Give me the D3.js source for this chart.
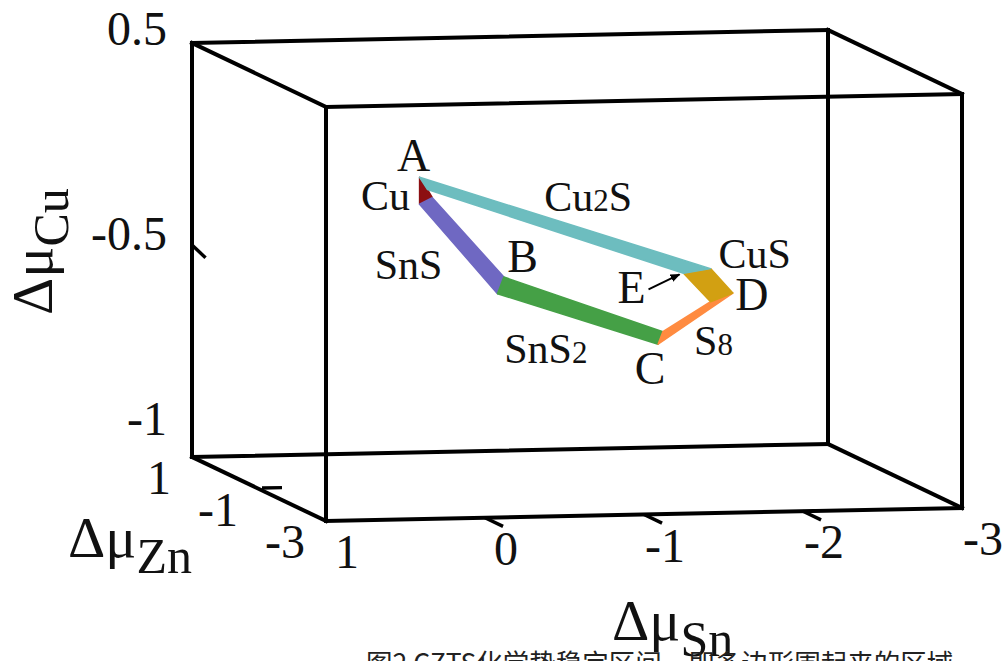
<!DOCTYPE html>
<html>
<head>
<meta charset="utf-8">
<script src="https://cdn.jsdelivr.net/npm/d3@7"></script>
<style>
body { margin: 0; background: #fff; }
svg { display: block; }
text { font-family: "Liberation Serif", "DejaVu Serif", "Times New Roman", serif; fill: #111; }
</style>
</head>
<body>
<svg id="chart" width="1003" height="661"></svg>
<script>
// axes: extents and tick labels
var snDomain = [1, -3];
var cuDomain = [-1, -0.5, 0.5];
var znDomain = [-3, 1];
var snTicks = [1, 0, -1, -2, -3];
var cuTicks = [0.5, -0.5, -1];
var znTicks = [1, -1, -3];
var snMarks = [0, -1, -2];
var cuMarks = [-0.5];
var znMarks = [-1];

// stability region (read on the plane dmu_Zn = -1)
var vertexNames = ["A", "A2", "B", "C", "D", "E"];
var outerSn = [-0.01, -0.01, -0.50, -1.51, -1.98, -1.84];
var outerCu = [-0.01, -0.14, -0.54, -0.67, -0.55, -0.48];
var innerSn = [-0.06, -0.09, -0.54, -1.54, -1.84, -1.67];
var innerCu = [-0.07, -0.11, -0.50, -0.64, -0.57, -0.50];
var regionZn = -1;
// edge i joins vertex i and vertex i+1
var phases = ["Cu", "SnS", "SnS2", "S8", "CuS", "Cu2S"];
var phaseColors = ["#8c0f12", "#6f68c2", "#45a046", "#ff8b40", "#d2a012", "#6dbdbf"];
var pointLabels = ["A", "B", "C", "D", "E"];
var caption = "图2 CZTS化学势稳定区间，即多边形围起来的区域";

var svg = d3.select("#chart");

// oblique projection of the box
var u = d3.scaleLinear().domain(snDomain).range([0, 1]);
var v = d3.scaleLinear().domain(cuDomain).range([0, 0.5, 1]);
var w = d3.scaleLinear().domain(znDomain).range([0, 1]);
var origin = [326, 521], U = [636, -13], V = [0, -414], W = [-134, -64];
var P = function(sn, cu, zn){
	var a = u(sn), b = v(cu), c = w(zn);
	return [origin[0] + a*U[0] + b*V[0] + c*W[0], origin[1] + a*U[1] + b*V[1] + c*W[1]];
};

// ends of each axis: [left, right], [bottom, top], [front, back]
var sE = [snDomain[0], snDomain[1]];
var cE = [cuDomain[0], cuDomain[cuDomain.length - 1]];
var zE = [znDomain[0], znDomain[1]];

// Draw box
var edges = [];
[0, 1].forEach(function(i){ [0, 1].forEach(function(j){
	edges.push([[sE[0], cE[i], zE[j]], [sE[1], cE[i], zE[j]]]);
	edges.push([[sE[i], cE[0], zE[j]], [sE[i], cE[1], zE[j]]]);
	edges.push([[sE[i], cE[j], zE[0]], [sE[i], cE[j], zE[1]]]);
}); });
svg.append("g")
	.selectAll("path")
	.data(edges)
	.enter()
		.append("path")
		.attr("d", function(e){
			var p = P.apply(null, e[0]), q = P.apply(null, e[1]);
			return "M " + p[0] + " " + p[1] + " L " + q[0] + " " + q[1];
		})
		.attr("stroke", "#000")
		.attr("stroke-width", 4)
		.attr("stroke-linecap", "square");

// tick marks
var tickLen = 20;
var wl = Math.hypot(W[0], W[1]), ul = Math.hypot(U[0], U[1]);
var ticks = [];
snMarks.forEach(function(s){
	var p = P(s, cE[0], zE[0]);
	ticks.push([p, [p[0] - W[0]/wl*tickLen, p[1] - W[1]/wl*tickLen]]);
});
cuMarks.forEach(function(c){
	var p = P(sE[0], c, zE[1]);
	ticks.push([[p[0], p[1] - 5], [p[0] - W[0]/wl*tickLen*0.75, p[1] - W[1]/wl*tickLen*0.9]]);
});
znMarks.forEach(function(z){
	var p = P(sE[0], cE[0], z);
	ticks.push([[p[0] + 3, p[1] - 1], [p[0] + U[0]/ul*tickLen + 3, p[1] + U[1]/ul*tickLen - 1]]);
});
svg.append("g")
	.selectAll("path")
	.data(ticks)
	.enter()
		.append("path")
		.attr("d", function(t){ return "M " + t[0][0] + " " + t[0][1] + " L " + t[1][0] + " " + t[1][1]; })
		.attr("stroke", "#000")
		.attr("stroke-width", 3.4);

// tick labels
var fmt = function(d){ return String(d); };
svg.append("g")
	.selectAll("text")
	.data(snTicks)
	.enter()
		.append("text")
		.attr("x", function(d){ return P(d, cE[0], zE[0])[0] + 21; })
		.attr("y", function(d){ return P(d, cE[0], zE[0])[1] + 47; })
		.attr("text-anchor", "middle")
		.attr("font-size", 48)
		.text(fmt);
svg.append("g")
	.selectAll("text")
	.data(znTicks)
	.enter()
		.append("text")
		.attr("x", function(d){ return P(sE[0], cE[0], d)[0] - 21; })
		.attr("y", function(d){ return P(sE[0], cE[0], d)[1] + 37; })
		.attr("text-anchor", "end")
		.attr("font-size", 48)
		.text(fmt);
// the Cu labels sit unevenly in the picture
var cuLabelY = d3.scaleLinear().domain(cuDomain).range([435, 250, 45]);
svg.append("g")
	.selectAll("text")
	.data(cuTicks)
	.enter()
		.append("text")
		.attr("x", function(d){ return P(sE[0], d, zE[1])[0] - 25; })
		.attr("y", cuLabelY)
		.attr("text-anchor", "end")
		.attr("font-size", 48)
		.text(fmt);

// axis titles
var axisTitle = function(g, sub){
	g.append("tspan").attr("font-size", 58).text("Δμ");
	g.append("tspan").attr("font-size", 50).attr("dy", 16).text(sub);
};
svg.append("text").attr("x", 68).attr("y", 557).call(axisTitle, "Zn");
svg.append("text").attr("x", 612).attr("y", 640).call(axisTitle, "Sn");
svg.append("text").attr("transform", "translate(52,315) rotate(-90)").call(axisTitle, "Cu");

// Draw region as colored bands between the two rings
var outer = outerSn.map(function(s, i){ return P(s, outerCu[i], regionZn); });
var inner = innerSn.map(function(s, i){ return P(s, innerCu[i], regionZn); });
var n = outer.length;
svg.append("g")
	.selectAll("polygon")
	.data(phases)
	.enter()
		.append("polygon")
		.attr("points", function(p, i){
			var j = (i + 1) % n;
			return [outer[i], outer[j], inner[j], inner[i]].map(function(q){ return q.join(","); }).join(" ");
		})
		.attr("fill", function(p, i){ return phaseColors[i]; })
		.attr("stroke", function(p, i){ return phaseColors[i]; })
		.attr("stroke-width", 1.5)
		.attr("stroke-linejoin", "round");

// phase labels, placed off the middle of each edge
var phaseOffsets = [[-34, 19], [-50, 30], [-32, 44], [18, 36], [33, -13], [23, -12]];
svg.append("g")
	.selectAll("text")
	.data(phases)
	.enter()
		.append("text")
		.attr("x", function(p, i){ var j = (i + 1) % n; return (outer[i][0] + outer[j][0]) / 2 + phaseOffsets[i][0]; })
		.attr("y", function(p, i){ var j = (i + 1) % n; return (outer[i][1] + outer[j][1]) / 2 + phaseOffsets[i][1]; })
		.attr("text-anchor", "middle")
		.attr("font-size", 42)
		.each(function(p){
			var m = p.match(/^(\D+?)(\d?)(\D*)$/);
			var t = d3.select(this);
			t.append("tspan").text(m[1]);
			if(m[2]){ t.append("tspan").attr("font-size", 31).text(m[2]); }
			if(m[3]){ t.append("tspan").text(m[3]); }
		});

// vertex letters
var pointIndex = [0, 2, 3, 4, 5];
var pointOffsets = [[-6, -6], [25, -22], [-8, 40], [19, 17], [-79, 34]];
svg.append("g")
	.selectAll("text")
	.data(pointLabels)
	.enter()
		.append("text")
		.attr("x", function(d, i){ return outer[pointIndex[i]][0] + pointOffsets[i][0]; })
		.attr("y", function(d, i){ return outer[pointIndex[i]][1] + pointOffsets[i][1]; })
		.attr("text-anchor", "middle")
		.attr("font-size", 46)
		.text(function(d){ return d; });

// arrow from E to its vertex
svg.append("defs").append("marker")
	.attr("id", "head").attr("viewBox", "0 0 10 10")
	.attr("refX", 9).attr("refY", 5)
	.attr("markerWidth", 5).attr("markerHeight", 5)
	.attr("orient", "auto")
	.append("path").attr("d", "M 0 1 L 10 5 L 0 9 z").attr("fill", "#000");
var eIn = inner[5];
svg.append("path")
	.attr("d", "M " + (eIn[0] - 35) + " " + (eIn[1] + 16) + " L " + (eIn[0] - 4) + " " + (eIn[1] + 1))
	.attr("stroke", "#000")
	.attr("stroke-width", 2)
	.attr("marker-end", "url(#head)");

// caption (cut off by the bottom edge in the source)
svg.append("text")
	.attr("x", 366)
	.attr("y", 673)
	.attr("font-size", 26.5)
	.style("font-family", "'Noto Sans CJK SC', 'Noto Sans', sans-serif")
	.style("fill", "#222")
	.text(caption);
</script>
</body>
</html>
